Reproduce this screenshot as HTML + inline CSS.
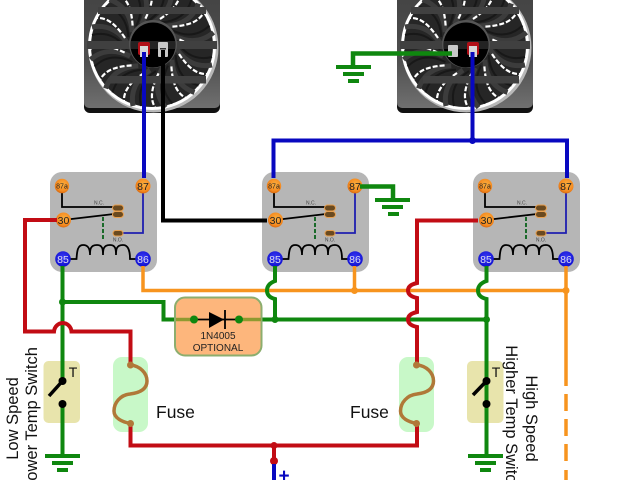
<!DOCTYPE html>
<html>
<head>
<meta charset="utf-8">
<style>
html,body{margin:0;padding:0;background:#fff;width:640px;height:480px;overflow:hidden}
svg{display:block;filter:blur(0.35px)}
text{font-family:"Liberation Sans",sans-serif}
</style>
</head>
<body>
<svg width="640" height="480" viewBox="0 0 640 480" xmlns="http://www.w3.org/2000/svg">
<defs>
<radialGradient id="og" cx="55%" cy="40%" r="60%"><stop offset="0" stop-color="#fbb040"/><stop offset=".75" stop-color="#f58a1f"/><stop offset="1" stop-color="#d86a10"/></radialGradient>
<radialGradient id="bg" cx="50%" cy="40%" r="60%"><stop offset="0" stop-color="#3a3af5"/><stop offset="1" stop-color="#1010d0"/></radialGradient>
<linearGradient id="fr" x1="0" y1="0" x2="0" y2="1"><stop offset="0" stop-color="#404040"/><stop offset=".65" stop-color="#4e4e4e"/><stop offset="1" stop-color="#707070"/></linearGradient>
<g id="blade">
<path d="M2 -24 C14 -32 22 -44 19 -60" fill="none" stroke="#3c3c3c" stroke-width="5"/>
<path d="M-4 -25 C8 -33 15 -44 11 -60" fill="none" stroke="#181818" stroke-width="2"/>
<path d="M8 -27 C20 -35 29 -44 28 -56" fill="none" stroke="#fff" stroke-width="2.200" stroke-dasharray="5 2"/>
</g>
<g id="fan">
<rect x="84" y="-30" width="136" height="143" rx="6" fill="#111"/>
<rect x="84" y="-30" width="136" height="138" rx="5" fill="url(#fr)"/>
<circle cx="153.500" cy="47.500" r="65" fill="#b8b8b8"/>
<circle cx="152" cy="46" r="64" fill="#fff"/>
<circle cx="152" cy="46" r="61" fill="#262626"/>
<use href="#blade" transform="translate(152 46)"/>
<use href="#blade" transform="translate(152 46) rotate(30)"/>
<use href="#blade" transform="translate(152 46) rotate(60)"/>
<use href="#blade" transform="translate(152 46) rotate(90)"/>
<use href="#blade" transform="translate(152 46) rotate(120)"/>
<use href="#blade" transform="translate(152 46) rotate(150)"/>
<use href="#blade" transform="translate(152 46) rotate(180)"/>
<use href="#blade" transform="translate(152 46) rotate(210)"/>
<use href="#blade" transform="translate(152 46) rotate(240)"/>
<use href="#blade" transform="translate(152 46) rotate(270)"/>
<use href="#blade" transform="translate(152 46) rotate(300)"/>
<use href="#blade" transform="translate(152 46) rotate(330)"/>
<rect x="98" y="7" width="108" height="7" fill="#404040"/>
<rect x="87" y="41" width="130" height="8" fill="#404040"/>
<rect x="110" y="76" width="96" height="7.500" fill="#404040"/>
<circle cx="153" cy="44" r="24" fill="#555"/>
<circle cx="153" cy="45" r="22.500" fill="#000"/>
<rect x="130" y="41" width="46" height="8" fill="#404040" opacity=".55"/>
</g>
<g id="relayshape">
<rect x="50" y="172" width="107" height="100" rx="12" fill="#b6b6b6"/>
<path d="M62 186V207H117" fill="none" stroke="#000" stroke-width="1.800"/>
<path d="M63 220L114 214" fill="none" stroke="#000" stroke-width="1.800"/>
<path d="M103 217V241" fill="none" stroke="#1a6a2a" stroke-width="2" stroke-dasharray="4 2"/>
<path d="M122 233H143V186" fill="none" stroke="#2020b0" stroke-width="1.800"/>
<path d="M70 259H76.500C77 253 77 245 83 245C89 245 90 250 90 255C90 250 90 245 97 245C103 245 103 250 103 255C103 250 103 245 110 245C116 245 116 250 116 255C116 250 116 245 123 245C129 245 130 252 130 259H143" fill="none" stroke="#000" stroke-width="1.800"/>
<rect x="112.500" y="205" width="11" height="6" rx="3" fill="#6a4a20" stroke="#e8a050" stroke-width="1"/>
<rect x="112.500" y="211.500" width="11" height="6" rx="3" fill="#6a4a20" stroke="#e8a050" stroke-width="1"/>
<rect x="113" y="230.500" width="10" height="5.500" rx="2.700" fill="#6a4a20" stroke="#e8a050" stroke-width="1"/>
<circle cx="62" cy="186" r="7.200" fill="url(#og)"/>
<circle cx="143" cy="186" r="7.500" fill="url(#og)"/>
<circle cx="63.500" cy="220" r="7.500" fill="url(#og)"/>
<circle cx="63" cy="259" r="7.800" fill="url(#bg)"/>
<circle cx="143" cy="259" r="7.800" fill="url(#bg)"/>
</g>
</defs>

<!-- fans -->
<use href="#fan"/>
<use href="#fan" transform="translate(313 0)"/>

<!-- fan terminals -->
<rect x="138" y="42" width="12" height="13" rx="2" fill="#b01018"/>
<rect x="140" y="46" width="8" height="11" fill="#d8d8d8"/>
<rect x="158" y="42" width="10" height="15" rx="1" fill="#c8c8c8"/>
<rect x="160" y="48" width="6" height="1.500" fill="#333"/>
<rect x="467" y="42" width="12" height="13" rx="2" fill="#b01018"/>
<rect x="469" y="46" width="8" height="11" fill="#d8d8d8"/>
<rect x="448" y="45" width="10" height="12" rx="1" fill="#c8c8c8"/>

<!-- relays -->
<use href="#relayshape"/>
<use href="#relayshape" transform="translate(212 0)"/>
<use href="#relayshape" transform="translate(423 0)"/>

<!-- relay labels -->
<g fill="#222" text-anchor="middle">
<text x="62" y="188.500" font-size="7">87a</text>
<text x="143" y="190" font-size="10.500">87</text>
<text x="63.500" y="224" font-size="10.500">30</text>
<text x="63" y="263" font-size="10.500" fill="#dde">85</text>
<text x="143" y="263" font-size="10.500" fill="#dde">86</text>
<text x="99" y="204.500" font-size="5" fill="#444">N.C.</text>
<text x="118" y="241.500" font-size="5" fill="#444">N.O.</text>

<text x="274" y="188.500" font-size="7">87a</text>
<text x="355" y="190" font-size="10.500">87</text>
<text x="275.500" y="224" font-size="10.500">30</text>
<text x="275" y="263" font-size="10.500" fill="#dde">85</text>
<text x="355" y="263" font-size="10.500" fill="#dde">86</text>
<text x="311" y="204.500" font-size="5" fill="#444">N.C.</text>
<text x="330" y="241.500" font-size="5" fill="#444">N.O.</text>

<text x="485" y="188.500" font-size="7">87a</text>
<text x="566" y="190" font-size="10.500">87</text>
<text x="486.500" y="224" font-size="10.500">30</text>
<text x="486" y="263" font-size="10.500" fill="#dde">85</text>
<text x="566" y="263" font-size="10.500" fill="#dde">86</text>
<text x="522" y="204.500" font-size="5" fill="#444">N.C.</text>
<text x="541" y="241.500" font-size="5" fill="#444">N.O.</text>
</g>

<!-- fuse and switch backgrounds -->
<rect x="113" y="357" width="35" height="75" rx="9" fill="#c8f8c8"/>
<rect x="399" y="357" width="35" height="75" rx="9" fill="#c8f8c8"/>
<rect x="43.500" y="361" width="36.500" height="62" rx="5" fill="#e8e4ac"/>
<rect x="467" y="361" width="36.500" height="62" rx="5" fill="#e8e4ac"/>

<!-- orange wires -->
<g fill="none" stroke="#f7941e" stroke-width="3.500">
<path d="M143 266V290.500H566"/>
<path d="M354.500 266V290.500"/>
<path d="M566 266V386"/>
<path d="M566 394V411M566 419V436M566 444V461M566 470V480"/>
</g>
<circle cx="354.500" cy="290.500" r="3.500" fill="#f7941e"/>
<circle cx="566" cy="290.500" r="3.500" fill="#f7941e"/>

<!-- green wires -->
<g fill="none" stroke="#0f870f" stroke-width="4">
<path d="M62.500 266V380"/>
<path d="M62.500 302H163.500V319.500H486.500"/>
<path d="M62.500 404V456"/>
<path d="M275 266V281Q267 284 267 290.500Q267 297 275 299V319.500"/>
<path d="M486.500 266V281Q478 284 478 290.500Q478 297 486.500 299V455"/>
<path d="M452 53.500H353V67" stroke-width="4.500"/>
<path d="M360 186.500H393V200" stroke-width="4.500"/>
</g>
<circle cx="62.500" cy="302" r="3.500" fill="#0f870f"/>
<circle cx="275" cy="319.500" r="3.500" fill="#0f870f"/>
<circle cx="486.500" cy="319.500" r="3.500" fill="#0f870f"/>

<!-- grounds -->
<g fill="#0f870f">
<rect x="336" y="65" width="35" height="4"/><rect x="343" y="72" width="21" height="4"/><rect x="348" y="79" width="11" height="4"/>
<rect x="375" y="198" width="35" height="4"/><rect x="382" y="205" width="21" height="4"/><rect x="388" y="212" width="11" height="4"/>
<rect x="45" y="454" width="35" height="4"/><rect x="52" y="461" width="21" height="4"/><rect x="57" y="468" width="11" height="4"/>
<rect x="468" y="454" width="35" height="4"/><rect x="475" y="461" width="21" height="4"/><rect x="480" y="468" width="11" height="4"/>
</g>

<!-- red wires -->
<g fill="none" stroke="#c20c14" stroke-width="4">
<path d="M57 220H25V331.500H54A8.800 9.500 0 0 1 71.500 331.500H130.500V366"/>
<path d="M130.500 423V445.500H417V423"/>
<path d="M274 445.500V461"/>
<path d="M478 220.500H417V283Q408 285 408 290.500Q408 296 417 298V312Q408 314 408 319.500Q408 325 417 327V366"/>
</g>
<circle cx="274" cy="445.500" r="3.500" fill="#c20c14"/>
<circle cx="274" cy="461" r="4" fill="#c20c14"/>

<!-- blue wires -->
<g fill="none" stroke="#0808c0" stroke-width="4">
<path d="M144 52V178"/>
<path d="M472.500 52V140.500"/>
<path d="M273.500 178V140.500H567V178"/>
<path d="M274 464V480"/>
</g>
<circle cx="472.500" cy="140.500" r="3.500" fill="#0808c0"/>
<text x="284" y="482" font-size="19" font-weight="bold" fill="#0808c0" text-anchor="middle">+</text>

<!-- black wire -->
<path d="M163 50V220.500H267" fill="none" stroke="#000" stroke-width="4"/>

<!-- fuses -->
<g fill="none" stroke="#b07838" stroke-width="3.500">
<path d="M130.500 365C140 366 147 373 147 381C147 390 138 393 130 394C120 395 114 403 114 411C114 418 122 422 130.500 423.500"/>
<path d="M417 365C427 366 433.500 373 433.500 381C433.500 390 425 393 417 394C407 395 400.500 403 400.500 411C400.500 418 408 422 417 423.500"/>
</g>
<g fill="#b07838">
<circle cx="130.500" cy="365" r="3.500"/><circle cx="130.500" cy="423.500" r="3.500"/>
<circle cx="416.500" cy="365" r="3.500"/><circle cx="416.500" cy="423.500" r="3.500"/>
</g>
<text x="156" y="418" font-size="17.500" fill="#111">Fuse</text>
<text x="350" y="418" font-size="17.500" fill="#111">Fuse</text>

<!-- switches -->
<g fill="#000">
<circle cx="62.500" cy="381" r="4"/><circle cx="62.500" cy="404" r="4"/>
<circle cx="486.500" cy="381" r="4"/><circle cx="486.500" cy="404" r="4"/>
</g>
<path d="M62.500 381L49 396M486.500 381L473 395" stroke="#000" stroke-width="3.500" fill="none"/>
<text x="73" y="377" font-size="14" fill="#111" text-anchor="middle">T</text>
<text x="496" y="377" font-size="14" fill="#111" text-anchor="middle">T</text>

<!-- diode box -->
<rect x="175" y="297.500" width="86.500" height="58" rx="10" fill="#fdb67c" stroke="#8cae6e" stroke-width="2"/>
<path d="M176 319.500H194M239 319.500H261" stroke="#8f9a30" stroke-width="3.500" fill="none"/>
<path d="M194 319.500H239" stroke="#000" stroke-width="1.800" fill="none"/>
<circle cx="194" cy="319.500" r="4" fill="#0f870f"/>
<circle cx="239" cy="319.500" r="4" fill="#0f870f"/>
<path d="M209 312L224 319.500L209 328Z" fill="#000"/>
<path d="M225 310V329" stroke="#000" stroke-width="1.800"/>
<text x="218" y="339" font-size="10" fill="#222" text-anchor="middle">1N4005</text>
<text x="218" y="351" font-size="10" fill="#222" text-anchor="middle">OPTIONAL</text>

<!-- rotated labels -->
<g font-size="16.500" fill="#111" text-anchor="middle">
<text transform="translate(18 418.500) rotate(-90)">Low Speed</text>
<text transform="translate(37 418.500) rotate(-90)">Lower Temp Switch</text>
<text transform="translate(526 418.500) rotate(90)">High Speed</text>
<text transform="translate(506 418.500) rotate(90)">Higher Temp Switch</text>
</g>
</svg>
</body>
</html>
